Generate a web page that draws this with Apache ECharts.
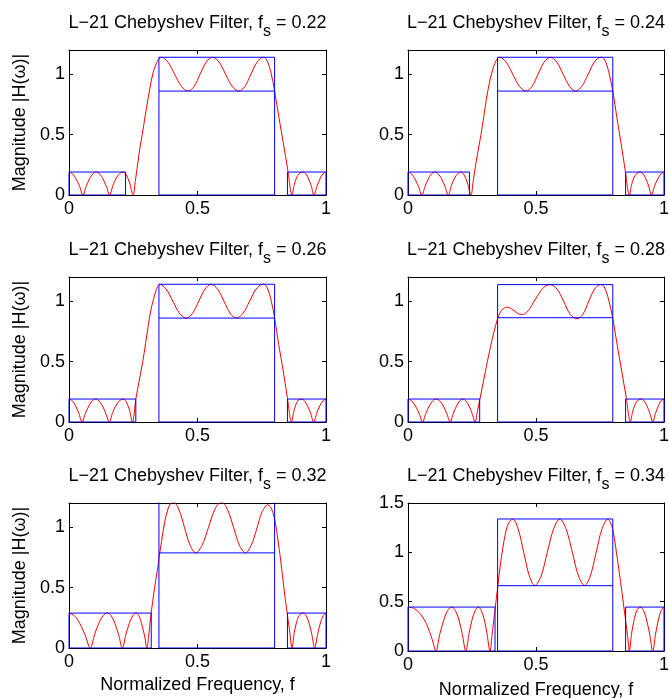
<!DOCTYPE html>
<html><head><meta charset="utf-8">
<script src="https://cdn.jsdelivr.net/npm/echarts@6/dist/echarts.min.js"></script>
<style>html,body{margin:0;padding:0;background:#fff}#c{width:669px;height:698px}</style>
</head><body><div id="c"></div>
<script>
// ---- data ----
const fsValues = [0.22, 0.24, 0.26, 0.28, 0.32, 0.34];
const passBand = [0.35, 0.8];
const upperStopStart = 0.85;
const deltaPass = [0.14, 0.14, 0.14, 0.137, 0.213, 0.338];
const deltaStop = [0.19, 0.19, 0.19, 0.19, 0.289, 0.445];
const yMaxValues = [1.2, 1.2, 1.2, 1.2, 1.2, 1.5];
const xTickValues = [0, 0.5, 1];

const mag022 = [
[0,0.19],[0.014,0.175],[0.027,0.134],[0.041,0.073],[0.054,0],
[0.067,0.073],[0.08,0.134],[0.093,0.175],[0.106,0.19],[0.119,0.175],[0.132,0.134],[0.145,0.073],[0.158,0],
[0.171,0.08],[0.184,0.14],[0.197,0.178],[0.21,0.19],[0.222,0.168],[0.236,0.1],[0.249,0],
[0.259,0.13],[0.268,0.27],[0.276,0.39],[0.285,0.5],[0.296,0.65],[0.307,0.79],[0.317,0.91],[0.327,1.01],[0.338,1.08],[0.348,1.123],[0.359,1.14],
[0.385,1.1],[0.411,1.0],[0.437,0.9],[0.463,0.86],
[0.487,0.9],[0.51,1.0],[0.534,1.1],[0.558,1.14],
[0.584,1.1],[0.609,1.0],[0.635,0.9],[0.661,0.86],
[0.685,0.9],[0.708,1.0],[0.732,1.1],[0.755,1.14],
[0.768,1.123],[0.785,1.02],[0.8,0.86],[0.817,0.64],[0.834,0.43],[0.851,0.21],[0.868,0],
[0.876,0.08],[0.885,0.14],[0.897,0.18],[0.911,0.19],[0.922,0.175],[0.932,0.134],[0.943,0.073],[0.953,0],
[0.965,0.073],[0.977,0.134],[0.988,0.175],[1,0.19]
];
const mag024 = [
[0,0.19],[0.0135,0.175],[0.027,0.134],[0.0405,0.073],[0.054,0],
[0.067,0.073],[0.0795,0.134],[0.092,0.175],[0.105,0.19],[0.118,0.175],[0.131,0.134],[0.144,0.073],[0.157,0],
[0.17,0.08],[0.182,0.14],[0.195,0.178],[0.207,0.19],[0.218,0.17],[0.232,0.1],[0.246,0],
[0.255,0.12],[0.265,0.26],[0.275,0.38],[0.285,0.5],[0.296,0.65],[0.306,0.79],[0.317,0.92],[0.327,1.01],[0.339,1.09],[0.348,1.125],[0.357,1.14],
[0.383,1.1],[0.409,1.0],[0.435,0.9],[0.461,0.86],
[0.485,0.9],[0.508,1.0],[0.532,1.1],[0.556,1.14],
[0.581,1.1],[0.606,1.0],[0.631,0.9],[0.655,0.86],
[0.679,0.9],[0.704,1.0],[0.728,1.1],[0.753,1.14],
[0.767,1.125],[0.784,1.02],[0.8,0.86],[0.816,0.64],[0.832,0.43],[0.848,0.21],[0.865,0],
[0.873,0.08],[0.882,0.14],[0.894,0.18],[0.907,0.19],[0.918,0.175],[0.929,0.134],[0.94,0.075],[0.951,0],
[0.963,0.073],[0.976,0.134],[0.988,0.175],[1,0.19]
];
const mag026 = [
[0,0.19],[0.013,0.175],[0.0255,0.134],[0.038,0.073],[0.051,0],
[0.064,0.073],[0.0775,0.134],[0.09,0.175],[0.103,0.19],[0.116,0.175],[0.13,0.134],[0.143,0.073],[0.157,0],
[0.17,0.08],[0.184,0.14],[0.197,0.178],[0.211,0.19],[0.222,0.17],[0.235,0.1],[0.247,0],
[0.26,0.19],[0.273,0.34],[0.287,0.5],[0.298,0.65],[0.308,0.79],[0.318,0.92],[0.328,1.01],[0.339,1.09],[0.345,1.12],[0.352,1.14],
[0.378,1.1],[0.404,1.0],[0.43,0.9],[0.457,0.86],
[0.481,0.9],[0.505,1.0],[0.529,1.1],[0.553,1.14],
[0.578,1.1],[0.603,1.0],[0.627,0.9],[0.652,0.86],
[0.677,0.9],[0.703,1.0],[0.728,1.1],[0.754,1.14],
[0.768,1.125],[0.785,1.02],[0.8,0.86],[0.816,0.64],[0.833,0.43],[0.849,0.21],[0.866,0],
[0.874,0.08],[0.882,0.14],[0.892,0.18],[0.904,0.19],[0.916,0.175],[0.928,0.134],[0.94,0.075],[0.952,0],
[0.964,0.073],[0.976,0.134],[0.988,0.175],[1,0.19]
];
const mag028 = [
[0,0.19],[0.014,0.175],[0.0285,0.134],[0.043,0.073],[0.057,0],
[0.07,0.073],[0.0835,0.134],[0.097,0.175],[0.11,0.19],[0.124,0.175],[0.1375,0.134],[0.151,0.073],[0.165,0],
[0.177,0.073],[0.19,0.134],[0.202,0.175],[0.214,0.19],[0.226,0.175],[0.238,0.134],[0.25,0.073],[0.262,0],
[0.272,0.1],[0.281,0.19],[0.295,0.34],[0.31,0.5],[0.322,0.62],[0.335,0.74],[0.35,0.855],[0.36,0.905],[0.372,0.938],[0.388,0.951],
[0.402,0.94],[0.418,0.915],[0.432,0.895],[0.447,0.89],
[0.462,0.905],[0.476,0.94],[0.49,0.99],[0.505,1.04],[0.52,1.09],[0.538,1.127],[0.556,1.137],
[0.582,1.1],[0.608,1.0],[0.634,0.89],[0.66,0.855],
[0.683,0.89],[0.706,1.0],[0.729,1.1],[0.752,1.137],
[0.766,1.12],[0.784,1.01],[0.8,0.855],[0.817,0.64],[0.834,0.43],[0.852,0.21],[0.869,0],
[0.877,0.08],[0.886,0.14],[0.898,0.18],[0.911,0.19],[0.922,0.175],[0.933,0.134],[0.945,0.073],[0.956,0],
[0.967,0.073],[0.978,0.134],[0.989,0.175],[1,0.19]
];
const mag032 = [
[0,0.29],[0.021,0.268],[0.0415,0.205],[0.062,0.111],[0.083,0],
[0.0995,0.111],[0.116,0.205],[0.1325,0.268],[0.149,0.29],[0.164,0.268],[0.178,0.205],[0.193,0.111],[0.2075,0],
[0.221,0.111],[0.235,0.205],[0.248,0.268],[0.262,0.29],[0.272,0.268],[0.282,0.205],[0.293,0.111],[0.303,0],
[0.31,0.1],[0.318,0.26],[0.326,0.39],[0.333,0.5],[0.342,0.62],[0.35,0.74],[0.36,0.88],[0.372,1.04],[0.385,1.15],[0.395,1.195],[0.405,1.21],
[0.427,1.149],[0.449,1.0],[0.471,0.851],[0.493,0.788],
[0.518,0.851],[0.543,1.0],[0.568,1.149],[0.593,1.21],
[0.616,1.149],[0.64,1.0],[0.663,0.851],[0.687,0.788],
[0.709,0.85],[0.731,0.99],[0.752,1.13],[0.774,1.185],[0.788,1.15],
[0.8,1.07],[0.812,0.91],[0.824,0.72],[0.836,0.5],[0.847,0.32],[0.858,0.15],[0.868,0],
[0.876,0.12],[0.884,0.2],[0.896,0.27],[0.911,0.29],[0.923,0.268],[0.934,0.205],[0.945,0.111],[0.956,0],
[0.967,0.111],[0.978,0.205],[0.989,0.268],[1,0.29]
];
const mag034 = [
[0,0.445],[0.025,0.43],[0.05,0.37],[0.074,0.264],[0.093,0.129],[0.109,0],
[0.124,0.17],[0.14,0.315],[0.155,0.411],[0.171,0.445],[0.185,0.411],[0.199,0.315],[0.212,0.17],[0.226,0],
[0.238,0.17],[0.25,0.315],[0.263,0.411],[0.275,0.445],[0.286,0.411],[0.298,0.315],[0.309,0.17],[0.32,0],
[0.33,0.2],[0.34,0.42],[0.35,0.64],[0.36,0.86],[0.37,1.04],[0.38,1.18],[0.392,1.29],[0.409,1.338],
[0.43,1.239],[0.452,1.0],[0.474,0.761],[0.495,0.664],
[0.52,0.761],[0.544,1.0],[0.569,1.239],[0.593,1.338],
[0.617,1.239],[0.642,1.0],[0.666,0.761],[0.69,0.664],
[0.712,0.761],[0.735,1.0],[0.758,1.239],[0.781,1.338],[0.791,1.3],
[0.8,1.23],[0.812,1.04],[0.824,0.82],[0.836,0.59],[0.847,0.37],[0.857,0.17],[0.865,0],
[0.873,0.17],[0.882,0.3],[0.894,0.41],[0.907,0.445],[0.92,0.411],[0.932,0.315],[0.944,0.17],[0.956,0],
[0.967,0.17],[0.978,0.315],[0.989,0.411],[1,0.445]
];
const magnitudes = [mag022, mag024, mag026, mag028, mag032, mag034];

// ---- layout ----
const FONT = '"Liberation Sans", Arial, Helvetica, sans-serif';
const grids = [
  {left: 69,  top: 50,  width: 257, height: 145},
  {left: 408, top: 50,  width: 256, height: 145},
  {left: 69,  top: 277, width: 257, height: 145},
  {left: 408, top: 277, width: 256, height: 145},
  {left: 69,  top: 503, width: 257, height: 145},
  {left: 408, top: 503, width: 256, height: 148}
];
const xNameGap = [0, 0, 0, 0, 28, 30];

const option = {
  animation: false,
  backgroundColor: '#ffffff',
  title: [], grid: [], xAxis: [], yAxis: [], series: []
};

const tickStyle = {show: true, inside: true, length: 4, lineStyle: {color: '#000', width: 1}};
const lineStyleAxis = {show: true, onZero: false, lineStyle: {color: '#000', width: 1}};
const labelStyle = {color: '#000', fontSize: 18, fontFamily: FONT};

grids.forEach((g, i) => {
  option.grid.push(Object.assign({show: false, containLabel: false, outerBoundsMode: 'none'}, g));
  const fs = fsValues[i], dp = deltaPass[i], ds = deltaStop[i], ymax = yMaxValues[i];
  option.title.push({
    text: 'L\u221221 Chebyshev Filter, f{sub|s} = ' + fs.toFixed(2),
    left: g.left + g.width / 2, top: g.top - 36, textAlign: 'center', padding: 0,
    textStyle: {fontSize: 18, fontWeight: 'normal', color: '#000', fontFamily: FONT, lineHeight: 18,
      rich: {sub: {fontSize: 16, color: '#000', fontFamily: FONT, padding: [18, 0, 0, 0], lineHeight: 18}}}
  });
  const isLeft = (i % 2 === 0), isBottom = (i >= 4);
  option.xAxis.push({
    type: 'value', gridIndex: i, position: 'bottom', min: 0, max: 1, interval: 0.5,
    axisLine: lineStyleAxis, axisTick: tickStyle, splitLine: {show: false},
    axisLabel: Object.assign({margin: 5}, labelStyle),
    name: isBottom ? 'Normalized Frequency, f' : '', nameLocation: 'middle', nameGap: xNameGap[i],
    nameTextStyle: labelStyle
  });
  option.xAxis.push({
    type: 'value', gridIndex: i, position: 'top', min: 0, max: 1, interval: 0.5,
    axisLine: lineStyleAxis, axisTick: tickStyle, splitLine: {show: false}, axisLabel: {show: false}
  });
  option.yAxis.push({
    type: 'value', gridIndex: i, position: 'left', min: 0, max: ymax, interval: 0.5,
    axisLine: lineStyleAxis, axisTick: tickStyle, splitLine: {show: false},
    axisLabel: Object.assign({margin: 4, showMaxLabel: ymax === 1.5}, labelStyle),
    name: isLeft ? 'Magnitude |H(\u03c9)|' : '', nameLocation: 'middle', nameGap: 40, nameRotate: 90,
    nameTextStyle: labelStyle
  });
  option.yAxis.push({
    type: 'value', gridIndex: i, position: 'right', min: 0, max: ymax, interval: 0.5,
    axisLine: lineStyleAxis, axisTick: tickStyle, splitLine: {show: false}, axisLabel: {show: false}
  });
  const xi = 2 * i, yi = 2 * i;
  option.series.push({
    type: 'line', xAxisIndex: xi, yAxisIndex: yi, data: magnitudes[i], symbol: 'none', showSymbol: false,
    smooth: 0.35, clip: true, lineStyle: {color: '#ff0000', width: 1}, z: 2, silent: true
  });
  const boxes = [
    [[0, 0], [0, ds], [fs, ds], [fs, 0], [0, 0]],
    [[passBand[0], 0], [passBand[0], 1 + dp], [passBand[1], 1 + dp], [passBand[1], 0], [passBand[0], 0]],
    [[passBand[0], 1 - dp], [passBand[1], 1 - dp]],
    [[upperStopStart, 0], [upperStopStart, ds], [1, ds], [1, 0], [upperStopStart, 0]]
  ];
  boxes.forEach(b => option.series.push({
    type: 'line', xAxisIndex: xi, yAxisIndex: yi, data: b, symbol: 'none', showSymbol: false,
    clip: true, lineStyle: {color: '#0000ff', width: 1}, z: 3, silent: true
  }));
});

const chart = echarts.init(document.getElementById('c'), null, {renderer: 'canvas'});
chart.setOption(option);
</script>
</body></html>
